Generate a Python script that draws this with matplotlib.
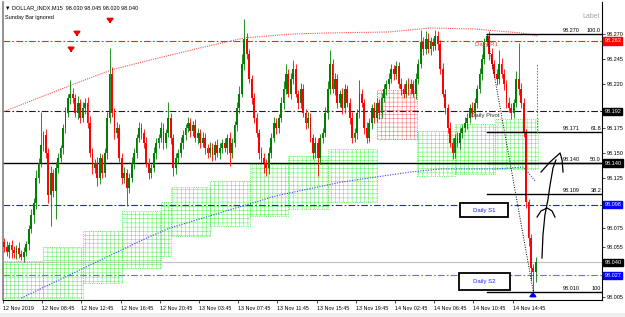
import matplotlib
matplotlib.use("Agg")
import matplotlib.pyplot as plt
import matplotlib.transforms as mtransforms
from matplotlib.patches import Rectangle
import numpy as np

plt.rcParams['font.family'] = ['Liberation Sans', 'DejaVu Sans']
plt.rcParams['hatch.linewidth'] = 0.3

# ---- M15 candles, values in thousandths above 98.000 ----
first_open = 60
closes = [
    55, 50, 57, 52, 49, 54, 48, 45, 50, 58,
    74, 88, 100, 125, 140, 158, 168, 150, 108, 130,
    112, 135, 145, 155, 175, 190, 205, 210, 205, 190,
    200, 185, 195, 200, 180, 150, 135, 140, 125, 145,
    130, 150, 185, 230, 190, 170, 175, 145, 125, 130,
    115, 125, 140, 150, 165, 175, 170, 160, 140, 130,
    135, 150, 160, 165, 175, 160, 170, 185, 165, 135,
    145, 150, 160, 168, 175, 180, 172, 178, 165, 170,
    160, 165, 155, 150, 155, 148, 158, 150, 155, 160,
    155, 165, 150, 160, 178, 195, 210, 240, 265, 250,
    225, 205, 185, 170, 150, 145, 140, 135, 150, 165,
    180, 175, 185, 200, 215, 230, 210, 225, 235, 210,
    200, 215, 190, 180, 185, 165, 150, 160, 145, 165,
    170, 190, 215, 240, 215, 225, 200, 210, 195, 215,
    200, 185, 165, 170, 190, 210, 200, 175, 165, 180,
    195, 185, 200, 190, 205, 215, 220, 225, 235, 230,
    238, 220, 215, 210, 220, 215, 220, 210, 225, 240,
    262, 255, 265, 255, 262, 258, 268, 260, 235, 210,
    195, 175, 160, 150, 165, 160, 170, 175, 180, 185,
    195, 190, 200, 215, 230, 245, 262, 268, 250, 240,
    230, 225, 240, 230, 220, 200, 195, 190, 200, 225,
    215, 200, 170, 101, 64, 34, 30, 40,
]
wick_up = [
    4, 6, 3, 5, 4, 3, 6, 4, 5, 3,
    4, 6, 5, 8, 5, 33, 4, 6, 5, 7,
    4, 6, 5, 3, 4, 6, 5, 14, 6, 5,
    8, 4, 6, 5, 6, 7, 5, 4, 6, 5,
    4, 5, 6, 26, 7, 5, 6, 4, 5, 6,
    4, 5, 6, 5, 4, 6, 5, 4, 6, 5,
    4, 6, 5, 4, 6, 5, 4, 16, 5, 4,
    5, 4, 6, 5, 4, 6, 5, 4, 6, 5,
    4, 6, 5, 4, 6, 5, 4, 6, 5, 4,
    5, 4, 6, 5, 4, 6, 8, 10, 20, 6,
    5, 4, 6, 5, 4, 6, 5, 4, 6, 5,
    6, 5, 4, 6, 8, 10, 5, 6, 9, 5,
    4, 6, 5, 4, 6, 5, 4, 6, 5, 4,
    5, 6, 8, 14, 5, 6, 5, 4, 6, 5,
    4, 5, 6, 5, 4, 14, 5, 4, 6, 5,
    4, 6, 5, 4, 6, 5, 4, 6, 5, 4,
    5, 4, 6, 5, 4, 6, 5, 4, 6, 5,
    12, 5, 8, 6, 5, 4, 6, 5, 4, 6,
    5, 4, 6, 5, 4, 6, 5, 4, 6, 5,
    4, 6, 5, 4, 6, 5, 4, 2, 5, 6,
    4, 5, 14, 6, 5, 4, 6, 5, 4, 8,
    36, 6, 5, 4, 3, 4, 4, 5,
]
wick_dn = [
    5, 4, 6, 8, 5, 6, 4, 3, 5, 4,
    6, 5, 8, 6, 5, 4, 6, 5, 8, 31,
    6, 28, 5, 4, 6, 5, 4, 6, 5, 4,
    6, 5, 4, 6, 5, 4, 6, 5, 8, 6,
    5, 4, 6, 5, 4, 6, 5, 4, 6, 5,
    18, 5, 4, 6, 5, 4, 6, 5, 4, 6,
    5, 4, 6, 5, 4, 6, 5, 4, 6, 8,
    6, 5, 4, 6, 5, 4, 6, 5, 4, 6,
    5, 4, 6, 5, 4, 6, 5, 4, 6, 5,
    4, 6, 13, 5, 4, 6, 5, 4, 6, 5,
    4, 6, 5, 4, 6, 5, 10, 8, 6, 5,
    4, 6, 5, 4, 6, 5, 4, 6, 5, 4,
    6, 5, 4, 6, 5, 4, 6, 5, 18, 6,
    5, 4, 6, 5, 4, 6, 5, 4, 6, 5,
    4, 6, 5, 4, 6, 5, 4, 6, 5, 4,
    6, 5, 4, 6, 5, 4, 6, 5, 4, 6,
    5, 4, 6, 5, 4, 6, 5, 4, 6, 5,
    4, 6, 5, 4, 6, 5, 4, 6, 5, 4,
    6, 5, 4, 6, 5, 4, 6, 5, 4, 6,
    5, 4, 6, 5, 4, 6, 5, 4, 6, 5,
    4, 6, 5, 4, 6, 5, 4, 6, 5, 4,
    6, 5, 4, 6, 8, 12, 20, 10,
]

# moving-average style dotted curves (bar index, thousandths)
ma_red_bars = [0, 30, 44, 60, 80, 98, 118, 132, 157, 174, 192, 211, 218]
ma_red_vals = [192, 221, 234, 244, 256, 266, 270, 271, 272, 276, 275, 271, 268]
ma_blue_bars = [7, 56, 67, 111, 138, 166, 178, 200, 212, 217]
ma_blue_vals = [4, 62, 74, 107, 121, 131, 134, 134, 136, 121]

# demand (green) and supply (red) zones: start bar, end bar, low, high
zone_start = [-0.5, 15.8, 32.2, 48.1, 64.0, 68.1, 84.0, 100.3, 115.8, 132.2, 168.5, 184.0, 200.3]
zone_end = [15.8, 32.2, 48.1, 64.0, 68.1, 84.0, 100.3, 115.8, 132.2, 152.2, 184.0, 200.3, 218.0]
zone_lo = [4, 4, 19, 34, 46, 66, 77, 87, 94, 101, 127, 129, 134]
zone_hi = [41, 55, 72, 92, 101, 116, 122, 139, 147, 154, 172, 179, 184]
supply_start, supply_end, supply_lo, supply_hi = 152.2, 168.5, 164, 214

# daily pivot levels
r1, pivot, s1, s2 = 98.263, 98.192, 98.098, 98.027
last_price = 98.040
mid_line = 98.140

# fibonacci
fib_prices = [98.270, 98.171, 98.140, 98.109, 98.010]
fib_names = ["100.0", "61.8", "50.0", "38.2", "100"]
fib_start_bar = 197

# fractal arrows
down_arrow_bars = [27.3, 29.7, 43.2]
down_arrow_prices = [98.253, 98.269, 98.282]
up_arrow_bar, up_arrow_price = 215.8, 98.009

time_labels = ["12 Nov 2019", "12 Nov 08:45", "12 Nov 12:45", "12 Nov 16:45",
               "12 Nov 20:45", "13 Nov 03:45", "13 Nov 07:45", "13 Nov 11:45",
               "13 Nov 15:45", "13 Nov 19:45", "14 Nov 02:45", "14 Nov 06:45",
               "14 Nov 10:45", "14 Nov 14:45"]
price_ticks = [98.270, 98.245, 98.220, 98.175, 98.150, 98.125, 98.075, 98.055, 98.005]

assert len(closes) == len(wick_up) == len(wick_dn)

fig = plt.figure(figsize=(6.25, 3.17), dpi=100)
fig.patch.set_facecolor('white')
ax = fig.add_axes([3 / 625, 17 / 317, 599 / 625, 298 / 317])
ax.set_xlim(-0.49, 244.0)
ax.set_ylim(98.0020, 98.3022)

# zones
for s, e, lo_, hi_ in zip(zone_start, zone_end, zone_lo, zone_hi):
    ax.add_patch(Rectangle((s, 98 + lo_ / 1000), e - s, (hi_ - lo_) / 1000,
                           fill=False, edgecolor='#3cf03c', hatch='++++',
                           lw=0.6, ls=':', zorder=1))
ax.add_patch(Rectangle((supply_start, 98 + supply_lo / 1000), supply_end - supply_start,
                       (supply_hi - supply_lo) / 1000, fill=False, edgecolor='#ff5050',
                       hatch='++++', lw=0.6, ls=':', zorder=1))

# horizontal levels
dashdot = (0, (6, 2, 1.5, 2))
ax.axhline(r1, color='#ff2020', lw=0.8, ls=dashdot, zorder=2)
ax.axhline(pivot, color='#202020', lw=0.8, ls=dashdot, zorder=2)
ax.axhline(s1, color='#2020ff', lw=0.8, ls=dashdot, zorder=2)
ax.axhline(s2, color='#6a6aff', lw=0.8, ls=dashdot, zorder=2)
ax.axhline(last_price, color='#c0c0c0', lw=0.8, zorder=2)
ax.axhline(mid_line, color='black', lw=1.0, zorder=2)

# curves
ax.plot(ma_red_bars, [98 + v / 1000 for v in ma_red_vals], color='#ff5050',
        lw=0.8, ls=(0, (1, 1)), zorder=2)
ax.plot(ma_blue_bars, [98 + v / 1000 for v in ma_blue_vals], color='#4040ff',
        lw=0.8, ls=(0, (1, 1.3)), zorder=2)

# candles
opens = [first_open] + closes[:-1]
idx = np.arange(len(closes))
o = 98 + np.array(opens) / 1000
c = 98 + np.array(closes) / 1000
hi = np.maximum(o, c) + np.array(wick_up) / 1000
lo = np.minimum(o, c) - np.array(wick_dn) / 1000
cols = np.where(c > o, '#008000', np.where(c < o, '#ff0000', '#000000'))
ax.vlines(idx, lo, hi, colors=cols, lw=0.6, zorder=3)
ax.bar(idx, np.maximum(np.abs(c - o), 0.0008), bottom=np.minimum(o, c), width=0.75,
       color=cols, lw=0, zorder=4)

# fibonacci
for p, name in zip(fib_prices, fib_names):
    ax.plot([fib_start_bar, 244.0], [p, p], color='black', lw=1.0, zorder=5)
    ax.text(235.0, p + 0.0012, f"{p:.3f}", fontsize=4, ha='right', va='bottom', zorder=6)
    ax.text(243.6, p + 0.0012, name, fontsize=4, ha='right', va='bottom', zorder=6)
ax.plot([fib_start_bar, 216], [fib_prices[0], fib_prices[-1]], color='black', lw=0.7,
        ls=(0, (1, 1.5)), zorder=5)
ax.plot([217.5, 217.5], [98.170, 98.241], color='#ff3030', lw=0.7, ls=(0, (1.5, 1.5)), zorder=5)

# hand-drawn arrows
ax.plot([219.5, 219.9, 220.7, 221.9, 222.8, 224.0, 225.2],
        [98.0443, 98.0674, 98.0876, 98.1027, 98.1178, 98.1350, 98.1430],
        color='black', lw=0.9, zorder=6)
ax.plot([217.5, 219.1, 221.6, 223.6, 224.8],
        [98.0856, 98.0917, 98.0947, 98.0917, 98.0856], color='black', lw=0.9, zorder=6)
ax.plot([219.1, 222.8, 226.9, 227.7, 228.1],
        [98.1309, 98.1410, 98.1501, 98.1430, 98.1309], color='black', lw=0.9, zorder=6)

# arrows (fractals)
for b, p in zip(down_arrow_bars, down_arrow_prices):
    ax.annotate('', xy=(b, p - 0.004), xytext=(b, p + 0.004),
                arrowprops=dict(arrowstyle='-|>,head_width=0.18,head_length=0.22',
                                color='#ee0000', lw=1.4), zorder=6)
ax.annotate('', xy=(up_arrow_bar, up_arrow_price + 0.004), xytext=(up_arrow_bar, up_arrow_price - 0.005),
            arrowprops=dict(arrowstyle='-|>,head_width=0.18,head_length=0.22',
                            color='#0000ee', lw=1.4), zorder=6)

# pivot labels
ax.text(192.2, 98.2595, "Daily R1", fontsize=4.3, color='#e04040', va='center', zorder=6)
ax.text(190.5, 98.1875, "Daily Pivot", fontsize=4.3, color='#303030', va='center', zorder=6)
for x0, x1, y0, y1, txt in [(186.0, 205.6, 98.0856, 98.0997, "Daily S1"),
                            (185.6, 206.4, 98.0122, 98.0292, "Daily S2")]:
    ax.add_patch(Rectangle((x0, y0), x1 - x0, y1 - y0, facecolor='white',
                           edgecolor='black', lw=1.3, zorder=7))
    ax.text((x0 + x1) / 2, (y0 + y1) / 2, txt, fontsize=4.3, color='#2020ff',
            ha='center', va='center', zorder=8)

# axes styling
ax.spines['top'].set_visible(False)
ax.spines['left'].set_color('#808080')
ax.spines['left'].set_linewidth(1.2)
ax.spines['right'].set_linewidth(0.8)
ax.spines['bottom'].set_linewidth(0.8)
ax.yaxis.tick_right()
ax.set_yticks(price_ticks)
ax.set_yticklabels([f"{p:.3f}" for p in price_ticks])
ax.tick_params(axis='y', labelsize=4, length=2, width=0.5, pad=1.5)
ax.set_xticks([16 * k - 0.5 for k in range(len(time_labels))])
ax.set_xticklabels(time_labels)
ax.tick_params(axis='x', labelsize=3.9, length=2.5, width=0.5, pad=1.5)
for lab in ax.get_xticklabels():
    lab.set_horizontalalignment('left')

# price boxes on axis
blend = mtransforms.blended_transform_factory(ax.transAxes, ax.transData)
for p, fc in [(r1, '#ff0000'), (pivot, '#000000'), (mid_line, '#000000'),
              (s1, '#0000ff'), (last_price, '#000000'), (s2, '#0000ff')]:
    ax.text(1.004, p, f"{p:.3f}", transform=blend, fontsize=4, color='white',
            ha='left', va='center', clip_on=False,
            bbox=dict(boxstyle='square,pad=0.2', fc=fc, ec=fc))

fig.text(5 / 625, 1 - 8 / 317, "\u25bc DOLLAR_INDX,M15  98.030 98.045 98.020 98.040",
         fontsize=4, va='center', ha='left')
fig.text(5 / 625, 1 - 17 / 317, "Sunday Bar ignored", fontsize=4, va='center', ha='left')
fig.text(600 / 625, 1 - 17 / 317, "Label", fontsize=5, color='#a0a0a0', va='center', ha='right')
fig.patches.append(Rectangle((0, 0), 1, 4 / 317, transform=fig.transFigure,
                             facecolor='#eeeeee', edgecolor='none'))

fig.savefig("out.png", dpi=100)
